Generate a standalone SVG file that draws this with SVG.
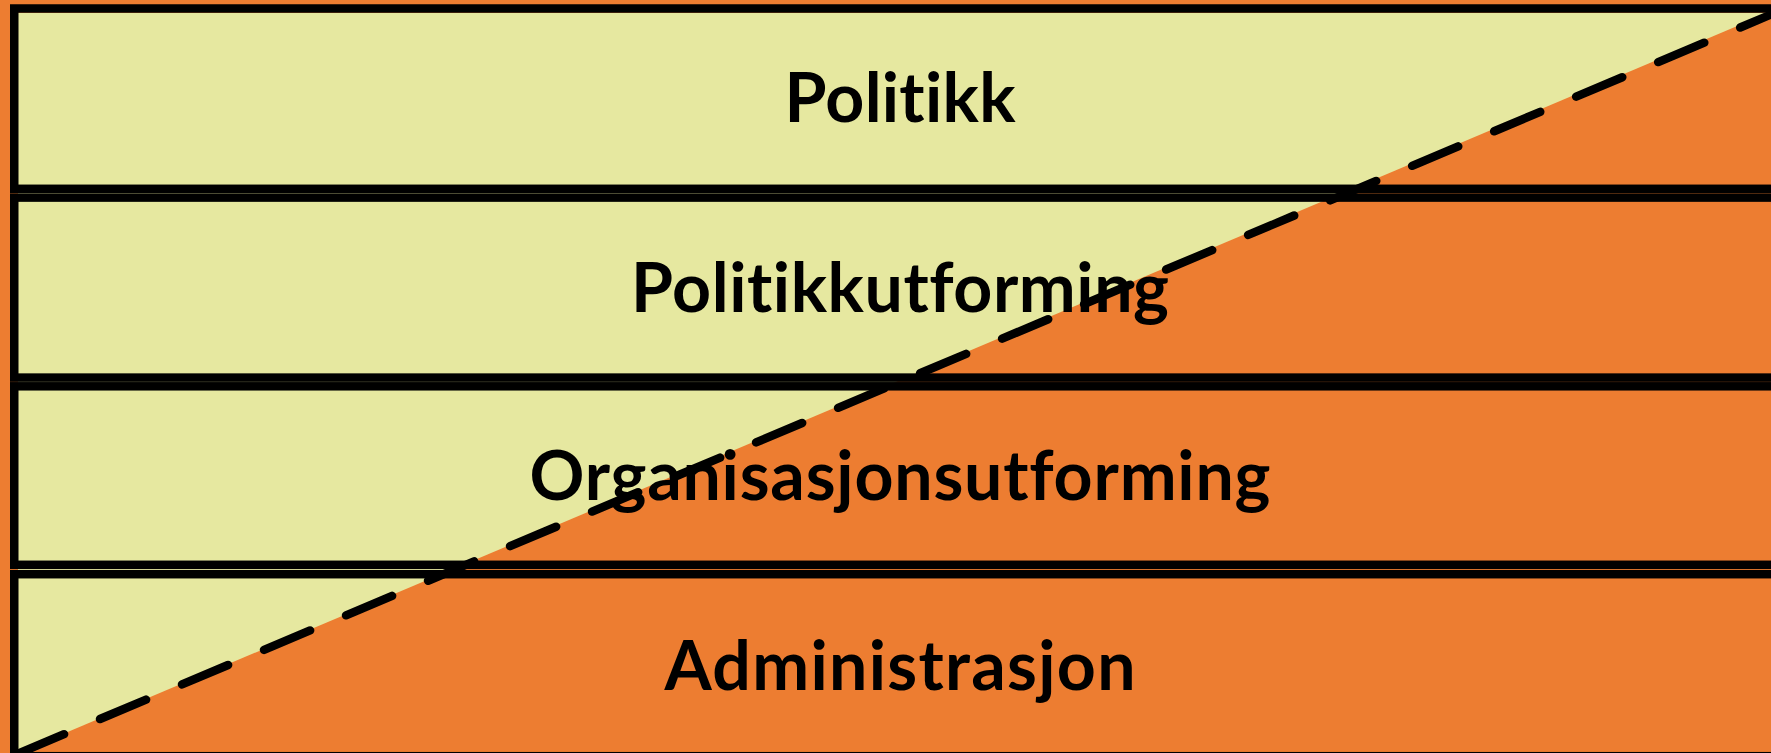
<svg xmlns="http://www.w3.org/2000/svg" width="1771" height="753" viewBox="0 0 1771 753">
  <style>
    .box { fill: none; stroke: #000000; stroke-width: 8.5; }
    .label { font-family: Lato, "Open Sans", "Noto Sans", sans-serif; font-weight: 700; font-size: 68px; fill: #000000; text-anchor: middle; font-variant-ligatures: none; font-feature-settings: "liga" 0, "clig" 0; }
    .divider { fill: none; stroke: #000000; stroke-width: 8.5; stroke-linecap: round; stroke-dasharray: 50 39; }
  </style>
  <rect id="background" x="0" y="0" width="1771" height="753" fill="#ED7D31"/>
  <polygon id="light-area" points="18,13 1768,13 18,753" fill="#E6E8A0"/>
  <g id="connectors">
    <line class="divider" x1="18" y1="753.6" x2="1790" y2="6.5"/>
  </g>
  <g id="node-politikk">
    <rect class="box" x="14.25" y="8.5" width="1800" height="180.3"/>
    <text class="label" x="900" y="122" textLength="231">Politikk</text>
  </g>
  <g id="node-politikkutforming">
    <rect class="box" x="14.25" y="197.6" width="1800" height="180"/>
    <text class="label" x="900" y="312" textLength="538">Politikkutforming</text>
  </g>
  <g id="node-organisasjonsutforming">
    <rect class="box" x="14.25" y="386.3" width="1800" height="178.5"/>
    <text class="label" x="900" y="500" textLength="741">Organisasjonsutforming</text>
  </g>
  <g id="node-administrasjon">
    <rect class="box" x="14.25" y="574.2" width="1800" height="182"/>
    <text class="label" x="900" y="690" textLength="471">Administrasjon</text>
  </g>
</svg>
